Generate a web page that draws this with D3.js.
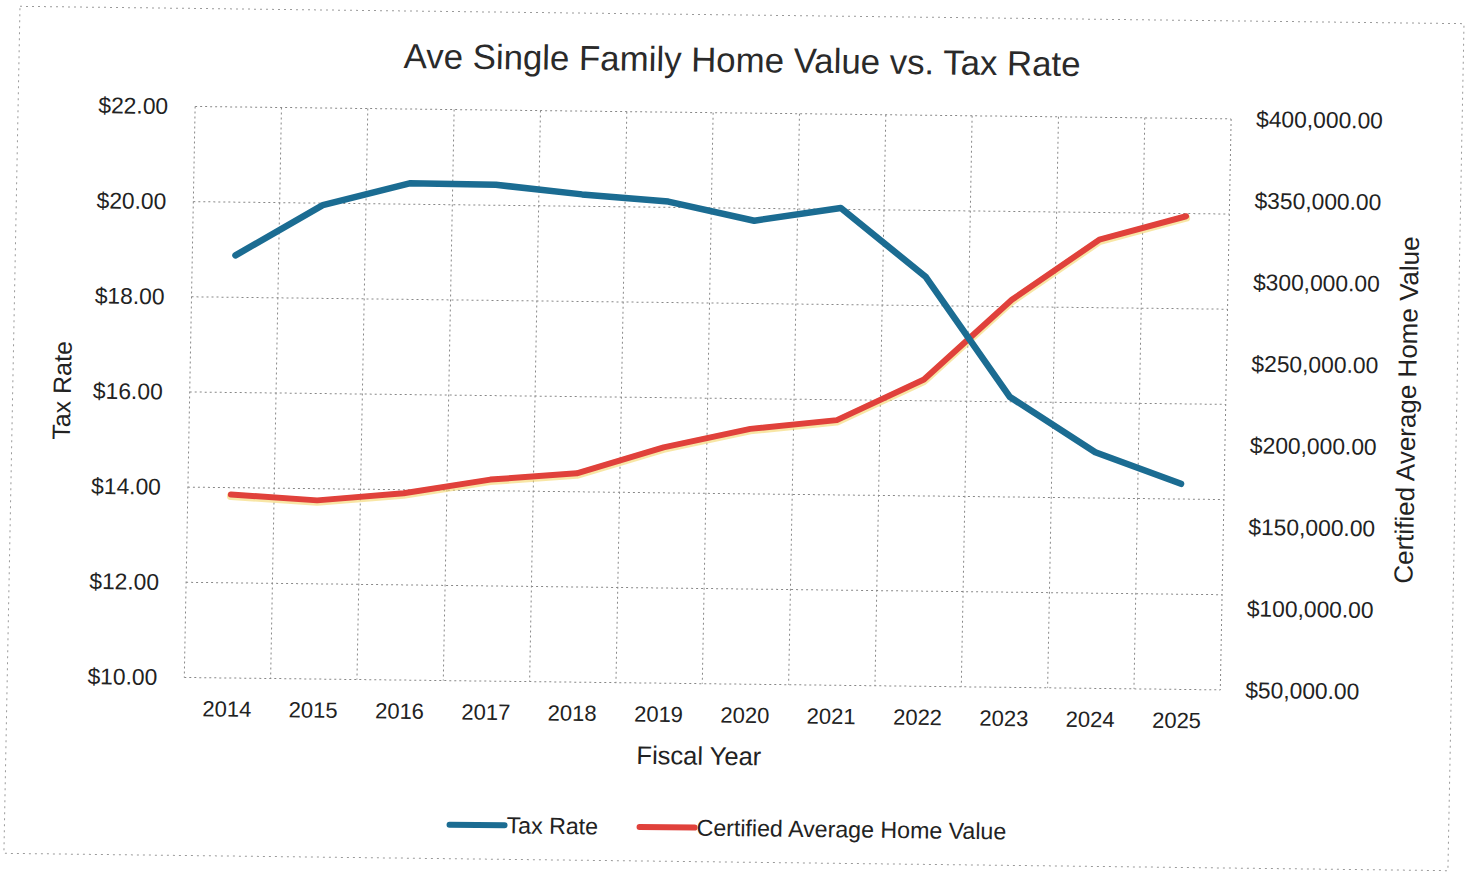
<!DOCTYPE html>
<html><head><meta charset="utf-8">
<script src="https://cdn.jsdelivr.net/npm/d3@7"></script>
<style>body{margin:0;background:#fff}svg{display:block}</style>
</head><body>
<svg id="c" width="1468" height="873"></svg>
<script>
const years = ["2014","2015","2016","2017","2018","2019","2020","2021","2022","2023","2024","2025"];
const taxRate = [18.88,19.96,20.44,20.43,20.25,20.12,19.74,20.03,18.60,16.10,14.96,14.32];
const homeValue = [162500,159500,164500,173500,178000,194500,206500,212500,238000,287500,325000,340000];
const leftTicks = [10,12,14,16,18,20,22];
const rightTicks = [50000,100000,150000,200000,250000,300000,350000,400000];
const titleText = "Ave Single Family Home Value vs. Tax Rate";
const seriesNames = ["Tax Rate","Certified Average Home Value"];

const svg = d3.select("#c");
const g = svg.append("g").attr("transform","matrix(1,0.012,-0.019,1,8.28,-8.81)");
const FONT = "'Liberation Sans', Arial, sans-serif";
const L=189, R=1225, T=113, B=684;
const x = d3.scaleBand().domain(years).range([L,R]);
const cx = d => x(d)+x.bandwidth()/2;
const yL = d3.scaleLinear().domain([10,22]).range([B,T]);
const yR = d3.scaleLinear().domain([50000,400000]).range([B,T]);

// outer border
g.append("rect").attr("x",12).attr("y",15).attr("width",1444).attr("height",847)
 .attr("fill","none").attr("stroke","#9a9a9a").attr("stroke-width",1).attr("stroke-dasharray","2,4");

// grid
const grid = g.append("g").attr("stroke","#888").attr("stroke-width",1).attr("stroke-dasharray","2,3");
grid.selectAll("line.h").data(leftTicks).join("line").attr("class","h")
 .attr("x1",L).attr("x2",R).attr("y1",d=>yL(d)).attr("y2",d=>yL(d));
const vb = years.map(d=>x(d)).concat([R]);
grid.selectAll("line.v").data(vb).join("line").attr("class","v")
 .attr("x1",d=>d).attr("x2",d=>d).attr("y1",T).attr("y2",B);

// axes
const fmtL = d3.format("$,.2f");
const aL = g.append("g").attr("transform",`translate(${L},0)`)
 .call(d3.axisLeft(yL).tickValues(leftTicks).tickSize(0).tickPadding(27).tickFormat(fmtL));
const aR = g.append("g").attr("transform",`translate(${R},0)`)
 .call(d3.axisRight(yR).tickValues(rightTicks).tickSize(0).tickPadding(25).tickFormat(fmtL));
const aB = g.append("g").attr("transform",`translate(0,${B})`)
 .call(d3.axisBottom(x).tickSize(0).tickPadding(23));
[aL,aR,aB].forEach(a=>{
  a.select(".domain").remove();
  a.selectAll("text").attr("font-family",FONT).attr("font-size",22.8).attr("fill","#222");
});
aB.selectAll("text").attr("font-size",22);

// lines
const lineL = d3.line().x((d,i)=>cx(years[i])).y(d=>yL(d));
const lineR = d3.line().x((d,i)=>cx(years[i])).y(d=>yR(d));
g.append("path").datum(homeValue).attr("d",lineR).attr("fill","none")
 .attr("stroke","#f3d56a").attr("stroke-width",8).attr("stroke-linejoin","round").attr("stroke-linecap","round").attr("transform","translate(0,1.5)").attr("opacity",0.6);
g.append("path").datum(homeValue).attr("d",lineR).attr("fill","none")
 .attr("stroke","#e0413b").attr("stroke-width",6).attr("stroke-linejoin","round").attr("stroke-linecap","round");
g.append("path").datum(taxRate).attr("d",lineL).attr("fill","none")
 .attr("stroke","#1b6c92").attr("stroke-width",6.5).attr("stroke-linejoin","round").attr("stroke-linecap","round");

// title
g.append("text").attr("x",735).attr("y",72).attr("text-anchor","middle")
 .attr("font-family",FONT).attr("font-size",34.8).attr("fill","#2a2a2a").text(titleText);
// axis titles
g.append("text").attr("x",(L+R)/2-2).attr("y",765).attr("text-anchor","middle")
 .attr("font-family",FONT).attr("font-size",25.5).attr("fill","#222").text("Fiscal Year");
g.append("text").attr("transform",`translate(70,${(T+B)/2}) rotate(-90)`).attr("text-anchor","middle")
 .attr("font-family",FONT).attr("font-size",25).attr("fill","#222").text("Tax Rate");
g.append("text").attr("transform",`translate(1415,402) rotate(-90)`).attr("text-anchor","middle")
 .attr("font-family",FONT).attr("font-size",26).attr("fill","#222").text("Certified Average Home Value");

// legend
const leg = [{n:seriesNames[0],c:"#1b6c92",x:457},{n:seriesNames[1],c:"#e0413b",x:647}];
const lg = g.append("g");
lg.selectAll("line").data(leg).join("line").attr("x1",d=>d.x).attr("x2",d=>d.x+55)
 .attr("y1",828).attr("y2",828).attr("stroke",d=>d.c).attr("stroke-width",6).attr("stroke-linecap","round");
lg.selectAll("text").data(leg).join("text").attr("x",d=>d.x+57).attr("y",836)
 .attr("font-family",FONT).attr("font-size",23.2).attr("fill","#222").text(d=>d.n);
</script>
</body></html>
